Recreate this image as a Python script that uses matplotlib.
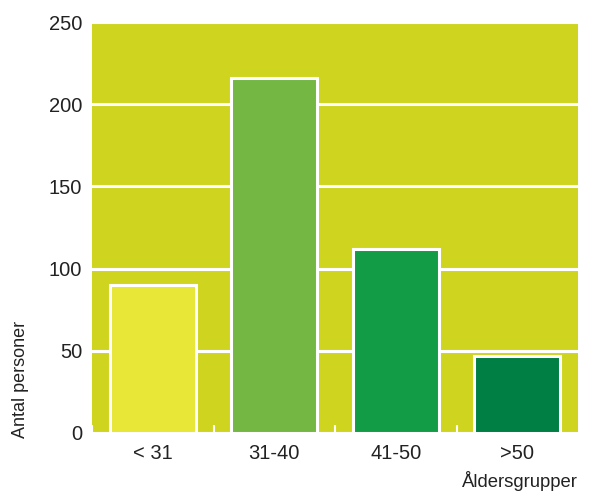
import numpy as np
import matplotlib
matplotlib.use('Agg')
import matplotlib.pyplot as plt

plt.rcParams['font.family'] = ['Liberation Sans', 'DejaVu Sans']

groups = ['< 31', '31-40', '41-50', '>50']
antal = [90, 216, 112, 47]
bar_colors = ['#E8E636', '#74B743', '#139C46', '#007F44']
yticks = [0, 50, 100, 150, 200, 250]

fig = plt.figure(figsize=(5.91, 4.92), dpi=100)
ax = fig.add_axes([92/591, 59/492, 486/591, 411/492])
ax.set_facecolor('#CFD51F')

x = np.arange(len(groups))
ax.bar(x, antal, width=0.71, color=bar_colors, edgecolor='white', linewidth=2.2, zorder=3)

ax.set_xlim(-0.5, 3.5)
ax.set_ylim(0, 250)
ax.set_yticks(yticks)
ax.set_xticks(x)
ax.set_xticklabels(groups)
ax.set_xticks(np.arange(-0.5, 3, 1.0), minor=True)

ax.yaxis.grid(True, color='white', linewidth=2.2, zorder=1)
ax.set_axisbelow(True)
for s in ax.spines.values():
    s.set_visible(False)

ax.tick_params(axis='y', length=0, pad=7, labelsize=14.5, labelcolor='#222222')
ax.tick_params(axis='x', which='major', length=0, pad=8, labelsize=14.5, labelcolor='#222222')
ax.tick_params(axis='x', which='minor', direction='in', length=6, width=1.5, color='white')

fig.text(21/591, 1 - 438/492, 'Antal personer', rotation=90, ha='center', va='bottom',
         fontsize=13, color='#222222')
fig.text(578/591, 1 - 481/492, 'Åldersgrupper', ha='right', va='center',
         fontsize=13.3, color='#222222')

fig.savefig('out.png', dpi=100)
